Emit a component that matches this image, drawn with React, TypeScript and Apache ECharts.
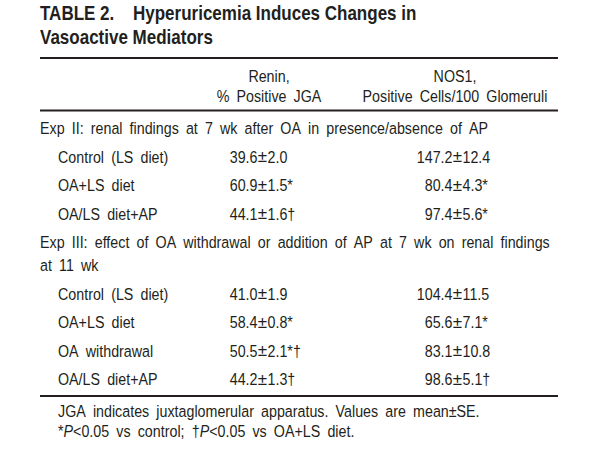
import React, { useEffect, useRef } from "react";
import * as echarts from "echarts";

// ---- data ----
const titleLabel = "TABLE 2.";
const titleLines = ["Hyperuricemia Induces Changes in", "Vasoactive Mediators"];
const columnHeaders = [
  ["Renin,", "% Positive JGA"],
  ["NOS1,", "Positive Cells/100 Glomeruli"],
];
const groupLabels = [
  ["Exp II: renal findings at 7 wk after OA in presence/absence of AP"],
  ["Exp III: effect of OA withdrawal or addition of AP at 7 wk on renal findings", "at 11 wk"],
];
const rowsII = ["Control (LS diet)", "OA+LS diet", "OA/LS diet+AP"];
const reninMeanII = [39.6, 60.9, 44.1];
const reninSeII = [2.0, 1.5, 1.6];
const reninMarkII = ["", "*", "†"];
const nosMeanII = [147.2, 80.4, 97.4];
const nosSeII = [12.4, 4.3, 5.6];
const nosMarkII = ["", "*", "*"];

const rowsIII = ["Control (LS diet)", "OA+LS diet", "OA withdrawal", "OA/LS diet+AP"];
const reninMeanIII = [41.0, 58.4, 50.5, 44.2];
const reninSeIII = [1.9, 0.8, 2.1, 1.3];
const reninMarkIII = ["", "*", "*†", "†"];
const nosMeanIII = [104.4, 65.6, 83.1, 98.6];
const nosSeIII = [11.5, 7.1, 10.8, 5.1];
const nosMarkIII = ["", "*", "", "†"];

const footnote1 = "JGA indicates juxtaglomerular apparatus. Values are mean±SE.";
const footnote2Parts = ["*", "P", "<0.05 vs control; †", "P", "<0.05 vs OA+LS diet."];

// ---- layout ----
const FONT = '"Liberation Sans", Arial, sans-serif';
const NARROW_BODY = 0.84;
const NARROW_TITLE = 0.81;
const INK = "#231f20";
const BODY = 17;
const TITLE = 21;
const LEFT = 40;
const RIGHT = 558;
const INDENT = 58;
const CAP = 0.36; // baseline -> cap middle ratio

// wide word spacing as in the typeset original
const wide = (s: string) => s.replace(/ /g, "\u2002");

function txt(text: string, x: number, baseline: number, opts: any = {}) {
  const size = opts.size || BODY;
  return {
    type: "text",
    x,
    y: baseline - size * CAP,
    scaleX: opts.scaleX || NARROW_BODY,
    silent: true,
    style: {
      text,
      fill: INK,
      fontSize: size,
      fontFamily: FONT,
      fontWeight: opts.bold ? "bold" : "normal",
      fontStyle: opts.italic ? "italic" : "normal",
      textAlign: opts.align || "left",
      align: opts.align || "left",
      textVerticalAlign: "middle",
      verticalAlign: "middle",
      rich: opts.rich,
    },
  };
}

function rule(y: number) {
  return {
    type: "rect",
    silent: true,
    shape: { x: LEFT, y: y - 1, width: RIGHT - LEFT, height: 2 },
    style: { fill: INK },
  };
}

function valueCell(pmX: number, mean: number, se: number, mark: string, baseline: number) {
  return [
    txt(mean.toFixed(1), pmX - 5, baseline, { align: "right" }),
    txt("±", pmX, baseline, { align: "center", scaleX: 1 }),
    txt(se.toFixed(1) + mark, pmX + 5, baseline, { align: "left" }),
  ];
}

export default function App() {
  const ref = useRef<HTMLDivElement>(null);
  useEffect(() => {
    if (!ref.current) return;
    const chart = echarts.init(ref.current, null, { renderer: "svg" });
    const els: any[] = [];

    // title
    const tOpts = { size: TITLE, bold: true, scaleX: NARROW_TITLE };
    els.push(txt(titleLabel, LEFT, 20, tOpts));
    els.push(txt(titleLines[0], 133, 20, tOpts));
    els.push(txt(titleLines[1], LEFT, 44, tOpts));

    // rules
    els.push(rule(58));
    els.push(rule(110.5));
    els.push(rule(396));

    // headers
    const colCenters = [269, 455];
    columnHeaders.forEach((h, i) => {
      els.push(txt(wide(h[0]), colCenters[i], 82, { align: "center" }));
      els.push(txt(wide(h[1]), colCenters[i], 102, { align: "center" }));
    });

    const pmX = [262.5, 457.5];
    const pitch = 28.4;

    // group II
    els.push(txt(wide(groupLabels[0][0]), LEFT, 134));
    rowsII.forEach((r, i) => {
      const b = 163 + i * pitch;
      els.push(txt(wide(r), INDENT, b));
      els.push(...valueCell(pmX[0], reninMeanII[i], reninSeII[i], reninMarkII[i], b));
      els.push(...valueCell(pmX[1], nosMeanII[i], nosSeII[i], nosMarkII[i], b));
    });

    // group III
    els.push(txt(wide(groupLabels[1][0]), LEFT, 248));
    els.push(txt(wide(groupLabels[1][1]), LEFT, 271));
    rowsIII.forEach((r, i) => {
      const b = 300 + i * pitch;
      els.push(txt(wide(r), INDENT, b));
      els.push(...valueCell(pmX[0], reninMeanIII[i], reninSeIII[i], reninMarkIII[i], b));
      els.push(...valueCell(pmX[1], nosMeanIII[i], nosSeIII[i], nosMarkIII[i], b));
    });

    // footnotes
    els.push(txt(wide(footnote1), INDENT, 417));
    const base = { fill: INK, fontSize: BODY, fontFamily: FONT };
    const f2 = footnote2Parts
      .map((p, i) => (i % 2 === 1 ? "{i|" + p + "}" : "{n|" + wide(p) + "}"))
      .join("");
    els.push(
      txt(f2, INDENT, 437, {
        rich: {
          n: { ...base },
          i: { ...base, fontStyle: "italic" },
        },
      })
    );

    chart.setOption({
      animation: false,
      backgroundColor: "#ffffff",
      graphic: { elements: els },
    });
    return () => chart.dispose();
  }, []);
  return (
    <div
      ref={ref}
      style={{ position: "fixed", left: 0, top: 0, width: 593, height: 466, background: "#fff" }}
    />
  );
}
